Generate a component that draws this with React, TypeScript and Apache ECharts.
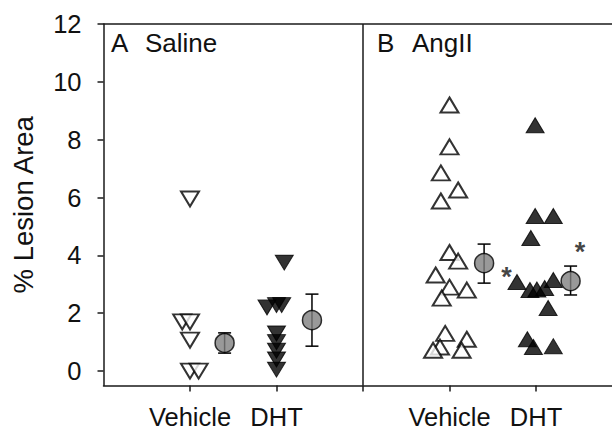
import React, { useEffect, useRef } from "react";
import * as echarts from "echarts";

// x positions are in category units (1 = Saline Vehicle, 2 = Saline DHT, 4 = AngII Vehicle, 5 = AngII DHT)
const categoryTicks = [1, 2, 3, 4, 5];
const categoryLabelValues = [1, 2, 4, 5];
const categoryNames = ["Vehicle", "DHT", "", "Vehicle", "DHT"];
const yTicks = [0, 2, 4, 6, 8, 10, 12];

const salineVehicle = [
  [1.0, 5.95], [0.91, 1.7], [1.0, 1.7], [1.0, 1.07], [1.0, 0.0], [1.1, 0.0],
];
const salineDHT = [
  [2.09, 3.75], [1.89, 2.2], [2.0, 2.28], [2.06, 2.28], [2.0, 1.3], [2.0, 1.0],
  [2.0, 0.7], [2.0, 0.4], [2.0, 0.05],
];
const angVehicle = [
  [4.0, 9.2], [4.0, 7.75], [3.9, 6.85], [4.1, 6.26], [3.9, 5.88], [4.0, 4.1],
  [4.1, 3.8], [3.84, 3.32], [4.0, 2.9], [4.2, 2.8], [3.91, 2.52], [3.95, 1.3],
  [4.2, 1.1], [3.89, 0.83], [3.81, 0.72], [4.14, 0.72],
];
const angDHT = [
  [4.99, 8.5], [4.99, 5.36], [5.2, 5.36], [4.94, 4.6], [4.78, 3.08], [4.93, 2.8],
  [5.01, 2.82], [5.1, 2.87], [5.2, 3.15], [5.14, 2.18], [4.9, 1.1], [4.97, 0.83],
  [5.2, 0.86],
];

const meanX = [1.4, 2.41, 4.4, 5.4];
const meanY = [0.97, 1.76, 3.73, 3.11];
const errLow = [0.62, 0.86, 3.04, 2.63];
const errHigh = [1.32, 2.66, 4.39, 3.63];

const asterisks = [[4.66, 3.45], [5.51, 4.32]];

const panelLabels = [
  { letter: "A", name: "Saline" },
  { letter: "B", name: "AngII" },
];

const FONT = "'Liberation Sans', Arial, Helvetica, sans-serif";
const INK = "#1a1a1a";

export default function App() {
  const ref = useRef<HTMLDivElement>(null);

  useEffect(() => {
    if (!ref.current) return;
    const chart = echarts.init(ref.current, null, { renderer: "svg" });

    const errData = meanX.map((x, i) => [x, errLow[i], errHigh[i]]);
    const meanData = meanX.map((x, i) => [x, meanY[i]]);

    const panelText = (left: number, text: string) => ({
      type: "text",
      left,
      top: 30,
      style: { text, fontSize: 26, fontFamily: FONT, fill: "#111" },
    });

    const option: any = {
      animation: false,
      backgroundColor: "#ffffff",
      grid: {
        left: 103.5,
        top: 24,
        width: 519,
        height: 361.5,
        containLabel: false,
        outerBoundsMode: "none",
      },
      xAxis: [
        {
          type: "value",
          min: 0,
          max: 6,
          position: "bottom",
          splitLine: { show: false },
          axisLine: { show: true, onZero: false, lineStyle: { color: INK, width: 1.5 } },
          axisTick: {
            show: true,
            inside: false,
            length: 6,
            customValues: categoryTicks,
            lineStyle: { color: INK, width: 1.5 },
          },
          axisLabel: {
            show: true,
            customValues: categoryLabelValues,
            margin: 18,
            fontSize: 25.5,
            fontFamily: FONT,
            color: "#111",
            formatter: (v: number) => categoryNames[Math.round(v) - 1] || "",
          },
        },
        {
          type: "value",
          min: 0,
          max: 6,
          position: "top",
          splitLine: { show: false },
          axisLine: { show: true, onZero: false, lineStyle: { color: INK, width: 1.5 } },
          axisTick: { show: false },
          axisLabel: { show: false },
        },
      ],
      yAxis: {
        type: "value",
        min: -0.5,
        max: 12,
        splitLine: { show: false },
        axisLine: { show: true, onZero: false, lineStyle: { color: INK, width: 1.5 } },
        axisTick: {
          show: true,
          length: 6,
          customValues: yTicks,
          lineStyle: { color: INK, width: 1.5 },
        },
        axisLabel: {
          customValues: yTicks,
          margin: 22,
          fontSize: 25.5,
          fontFamily: FONT,
          color: "#111",
        },
        name: "% Lesion Area",
        nameLocation: "middle",
        nameGap: 66,
        nameTextStyle: { fontSize: 27.5, fontFamily: FONT, color: "#111" },
      },
      graphic: [
        panelText(111, panelLabels[0].letter),
        panelText(145, panelLabels[0].name),
        panelText(377, panelLabels[1].letter),
        panelText(412, panelLabels[1].name),
      ],
      series: [
        {
          type: "scatter",
          name: "divider",
          data: [],
          silent: true,
          markLine: {
            silent: true,
            symbol: ["none", "none"],
            label: { show: false },
            lineStyle: { color: INK, width: 1.5, type: "solid" },
            data: [{ xAxis: 3 }],
          },
        },
        {
          type: "scatter",
          name: "Saline Vehicle",
          data: salineVehicle,
          symbol: "triangle",
          symbolRotate: 180,
          symbolSize: [18, 15],
          itemStyle: { color: "#ffffff", borderColor: "#000", borderWidth: 2 },
          z: 3,
        },
        {
          type: "scatter",
          name: "Saline DHT",
          data: salineDHT,
          symbol: "triangle",
          symbolRotate: 180,
          symbolSize: [18, 15],
          itemStyle: { color: "#000", borderColor: "#000", borderWidth: 1 },
          z: 3,
        },
        {
          type: "scatter",
          name: "AngII Vehicle",
          data: angVehicle,
          symbol: "triangle",
          symbolSize: [18, 15],
          itemStyle: { color: "#ffffff", borderColor: "#000", borderWidth: 2 },
          z: 3,
        },
        {
          type: "scatter",
          name: "AngII DHT",
          data: angDHT,
          symbol: "triangle",
          symbolSize: [18, 15],
          itemStyle: { color: "#000", borderColor: "#000", borderWidth: 1 },
          z: 3,
        },
        {
          type: "custom",
          name: "SEM",
          data: errData,
          z: 4,
          renderItem: (params: any, api: any) => {
            const x = api.value(0);
            const lo = api.value(1);
            const hi = api.value(2);
            const top = api.coord([x, hi]);
            const bot = api.coord([x, lo]);
            const hw = 6.5;
            const style = { stroke: "#000", lineWidth: 1.5 };
            return {
              type: "group",
              children: [
                { type: "line", shape: { x1: top[0], y1: top[1], x2: bot[0], y2: bot[1] }, style },
                { type: "line", shape: { x1: top[0] - hw, y1: top[1], x2: top[0] + hw, y2: top[1] }, style },
                { type: "line", shape: { x1: bot[0] - hw, y1: bot[1], x2: bot[0] + hw, y2: bot[1] }, style },
              ],
            };
          },
        },
        {
          type: "scatter",
          name: "Mean",
          data: meanData,
          symbol: "circle",
          symbolSize: 19,
          itemStyle: { color: "#808080", borderColor: "#000", borderWidth: 1.5 },
          z: 5,
        },
        {
          type: "scatter",
          name: "significance",
          data: asterisks,
          symbolSize: 2,
          itemStyle: { color: "rgba(0,0,0,0)" },
          silent: true,
          label: {
            show: true,
            position: "inside",
            align: "center",
            verticalAlign: "middle",
            formatter: "*",
            fontSize: 27,
            fontWeight: "bold",
            fontFamily: FONT,
            color: "#111",
            offset: [0, 6],
          },
          z: 5,
        },
      ],
    };

    chart.setOption(option);
    return () => chart.dispose();
  }, []);

  return <div ref={ref} style={{ width: 612, height: 429, position: "absolute", left: 0, top: 0 }} />;
}
